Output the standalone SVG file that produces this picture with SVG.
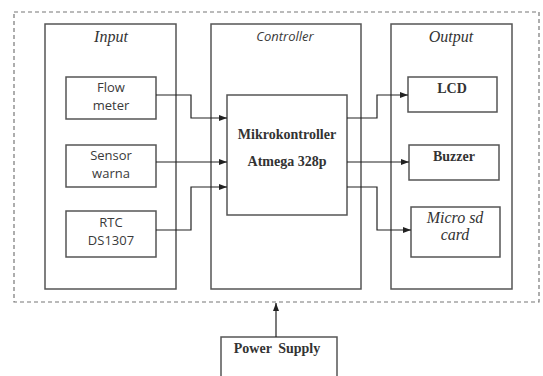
<svg xmlns="http://www.w3.org/2000/svg" width="543" height="376" viewBox="0 0 543 376">
<defs>
<marker id="arr" viewBox="0 0 8 6" refX="8" refY="3" markerWidth="8" markerHeight="6" markerUnits="userSpaceOnUse" orient="auto">
<path d="M0,0 L8,3 L0,6 Z" fill="#222"/>
</marker>
<style>
.box{fill:#fff;stroke:#555;stroke-width:1.5}
.dash{fill:none;stroke:#777;stroke-width:1.2;stroke-dasharray:4 3}
.con{fill:none;stroke:#222;stroke-width:1.2;marker-end:url(#arr)}
.sans{font-family:"Open Sans","Liberation Sans",sans-serif;font-size:13px;fill:#3a3a3a;text-anchor:middle}
.serif{font-family:"Liberation Serif","DejaVu Serif",serif;font-size:14px;font-weight:bold;fill:#333;text-anchor:middle}
.ital{font-family:"Liberation Serif","DejaVu Serif",serif;font-size:16px;font-style:italic;fill:#333;text-anchor:middle}
</style>
</defs>
<rect width="543" height="376" fill="#fff"/>
<rect class="dash" x="14" y="12" width="525" height="290"/>
<g id="input">
<rect class="box" x="45" y="24" width="131" height="265"/>
<text class="ital" x="111" y="42">Input</text>
</g>
<g id="controller">
<rect class="box" x="211" y="24" width="150" height="265"/>
<text class="sans" x="285" y="41" font-style="italic" font-size="13.5">Controller</text>
</g>
<g id="output">
<rect class="box" x="391" y="24" width="121" height="265"/>
<text class="ital" x="451" y="42">Output</text>
</g>
<g id="flow">
<rect class="box" x="66" y="77" width="90" height="42"/>
<text class="sans" x="111" y="92">Flow</text>
<text class="sans" x="111" y="110">meter</text>
</g>
<g id="sensor">
<rect class="box" x="66" y="145" width="90" height="42"/>
<text class="sans" x="111" y="160">Sensor</text>
<text class="sans" x="111" y="178">warna</text>
</g>
<g id="rtc">
<rect class="box" x="66" y="211" width="90" height="46"/>
<text class="sans" x="111" y="227">RTC</text>
<text class="sans" x="111" y="245">DS1307</text>
</g>
<g id="mcu">
<rect class="box" x="227" y="95" width="120" height="120"/>
<text class="serif" x="287" y="139">Mikrokontroller</text>
<text class="serif" x="287" y="166">Atmega 328p</text>
</g>
<g id="lcd">
<rect class="box" x="408" y="77" width="89" height="35"/>
<text class="serif" x="452" y="93">LCD</text>
</g>
<g id="buzzer">
<rect class="box" x="409" y="145" width="90" height="35"/>
<text class="serif" x="454" y="161">Buzzer</text>
</g>
<g id="sdcard">
<rect class="box" x="411" y="207" width="89" height="50"/>
<text class="ital" x="455" y="223" font-size="15">Micro sd</text>
<text class="ital" x="455" y="240" font-size="15">card</text>
</g>
<g id="power">
<rect class="box" x="221" y="337" width="116" height="45"/>
<text class="serif" x="277" y="353" font-size="15" word-spacing="3">Power Supply</text>
</g>
<g id="connectors">
<polyline class="con" points="156,95 191,95 191,118 227,118"/>
<polyline class="con" points="156,162 227,162"/>
<polyline class="con" points="156,230 191,230 191,187 227,187"/>
<polyline class="con" points="347,118 377,118 377,95 408,95"/>
<polyline class="con" points="347,162 409,162"/>
<polyline class="con" points="347,187 377,187 377,230 411,230"/>
<polyline class="con" points="276,337 276,303"/>
</g>
</svg>
